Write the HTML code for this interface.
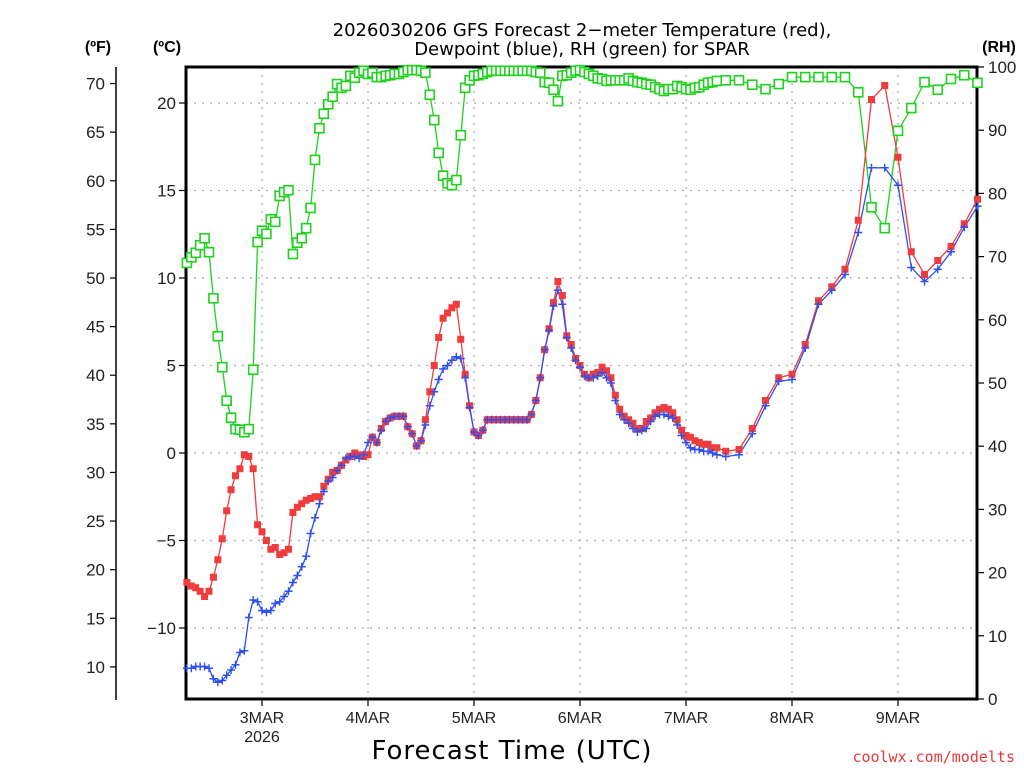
<!DOCTYPE html>
<html><head><meta charset="utf-8">
<style>
html,body{margin:0;padding:0;background:#fff;}
svg{display:block;font-family:"Liberation Sans","DejaVu Sans",sans-serif;}
</style></head>
<body>
<svg id="chart" width="1024" height="768" viewBox="0 0 1024 768" xmlns="http://www.w3.org/2000/svg">
<rect x="0" y="0" width="1024" height="768" fill="#fff"/>
<text x="582" y="36" font-size="18" text-anchor="middle" fill="#000" font-family="DejaVu Sans, sans-serif">2026030206 GFS Forecast 2−meter Temperature (red),</text>
<text x="582" y="55" font-size="18" text-anchor="middle" fill="#000" font-family="DejaVu Sans, sans-serif">Dewpoint (blue), RH (green) for SPAR</text>
<text x="98" y="52" font-size="16" font-weight="bold" text-anchor="middle">(ºF)</text>
<text x="167" y="52" font-size="16" font-weight="bold" text-anchor="middle">(ºC)</text>
<text x="999" y="52" font-size="16" font-weight="bold" text-anchor="middle">(RH)</text>
<text x="512" y="759" font-size="26" text-anchor="middle" font-family="DejaVu Sans, sans-serif" letter-spacing="1">Forecast Time (UTC)</text>
<text x="1015" y="762" font-size="15" text-anchor="end" fill="#e83a3a" font-family="DejaVu Sans Mono, monospace">coolwx.com/modelts</text>
<g id="grid"></g>
<g id="axes"></g>
<g id="series"></g>
</svg>
<script>
const hours = [7,8,9,10,11,12,13,14,15,16,17,18,19,20,21,22,23,24,25,26,27,28,29,30,31,32,33,34,35,36,37,38,39,40,41,42,43,44,45,46,47,48,49,
50,51,52,53,54,55,56,57,58,59,60,61,62,63,64,65,66,67,68,69,70,71,72,73,74,75,
76,77,78,79,80,81,82,83,84,
85,86,87,88,89,90,91,92,93,94,95,96,97,98,99,100,101,102,103,104,105,106,107,108,109,110,111,112,113,114,115,116,117,118,119,120,121,122,123,124,125,126,127,
129,132,135,138,141,144,147,150,153,156,159,162,165,168,171,174,177,180,183,186];
const tempC = [-7.4,-7.6,-7.7,-7.9,-8.2,-7.9,-7.1,-6.1,-4.9,-3.3,-2.1,-1.3,-0.9,-0.1,-0.2,-0.9,-4.1,-4.5,-5.0,-5.5,-5.4,-5.8,-5.7,-5.5,-3.4,-3.1,-2.9,-2.7,-2.6,-2.5,-2.5,-1.9,-1.5,-1.1,-1.0,-0.7,-0.4,-0.2,0,-0.1,-0.2,-0.1,0.9,
0.6,1.4,1.8,2.0,2.1,2.1,2.1,1.5,1.1,0.4,0.7,1.9,3.5,5.0,6.6,7.7,8.0,8.3,8.5,6.5,4.5,2.7,1.2,1.0,1.3,1.9,
1.9,1.9,1.9,1.9,1.9,1.9,1.9,1.9,1.9,
2.2,3.0,4.3,5.9,7.1,8.6,9.8,9.0,6.7,6.2,5.4,5.0,4.5,4.3,4.5,4.6,4.9,4.7,4.3,3.3,2.5,2.1,1.9,1.7,1.4,1.4,1.8,2.0,2.3,2.5,2.6,2.5,2.3,1.9,1.3,1.0,0.9,0.7,0.6,0.5,0.5,0.3,0.3,
0.1,0.2,1.4,3.0,4.3,4.5,6.2,8.7,9.5,10.5,13.3,20.2,21.0,16.9,11.5,10.2,11.0,11.8,13.1,14.5];
const dewC = [-12.3,-12.3,-12.2,-12.2,-12.2,-12.3,-12.9,-13.1,-13.0,-12.7,-12.4,-12.1,-11.4,-11.3,-9.4,-8.4,-8.5,-9.0,-9.1,-9.0,-8.6,-8.5,-8.2,-7.9,-7.4,-7.0,-6.5,-5.9,-4.6,-3.7,-2.9,-2.2,-1.6,-1.4,-1.0,-0.7,-0.3,-0.2,-0.2,-0.3,-0.1,0.6,0.9,
0.6,1.3,1.8,2.0,2.1,2.1,2.1,1.5,1.1,0.4,0.7,1.6,2.7,3.5,4.2,4.8,5.0,5.3,5.5,5.4,4.3,2.6,1.2,1.0,1.3,1.9,
1.9,1.9,1.9,1.9,1.9,1.9,1.9,1.9,1.9,
2.2,3.0,4.3,5.9,7.0,8.4,9.3,8.5,6.6,6.0,5.3,4.9,4.4,4.3,4.3,4.4,4.6,4.3,4.0,3.0,2.2,1.9,1.7,1.4,1.2,1.3,1.4,1.8,2.1,2.2,2.2,2.1,2.0,1.6,1.0,0.6,0.3,0.2,0.2,0.1,0.1,0,-0.1,
-0.2,-0.1,1.1,2.7,4.1,4.2,6.0,8.5,9.3,10.2,12.6,16.3,16.3,15.3,10.6,9.8,10.5,11.5,12.9,14.1];
const rhPct = [69.0,69.9,70.6,71.8,72.9,70.7,63.4,57.4,52.5,47.2,44.5,42.7,42.6,42.2,42.7,52.1,72.3,74.1,73.6,75.9,75.5,79.6,80.2,80.5,70.4,72.2,72.9,74.5,77.7,85.3,90.3,92.6,94.1,95.3,97.3,96.7,97.0,98.6,98.3,99.1,99.4,98.9,99.1,
98.4,98.4,98.6,98.7,98.9,98.9,99.2,99.5,99.5,99.5,99.4,99.1,95.6,91.6,86.4,82.8,81.6,81.3,82.1,89.2,96.7,97.9,98.6,98.7,98.9,99.2,
99.4,99.4,99.4,99.4,99.4,99.4,99.4,99.4,99.4,99.4,
99.2,99.1,97.6,97.5,96.4,94.6,98.6,98.7,99.1,99.4,99.5,99.2,98.9,98.6,98.2,98.1,97.8,
97.9,97.9,97.9,97.9,98.2,97.8,97.6,97.5,97.3,97.2,96.8,96.5,96.2,96.5,96.5,97.0,96.8,96.5,96.4,96.7,96.8,97.2,97.5,97.6,97.8,
97.9,97.9,97.2,96.5,97.3,98.4,98.4,98.4,98.4,98.4,96.0,77.8,74.5,89.9,93.5,97.6,96.4,98.1,98.7,97.5];
const dayLabels = ['3MAR','4MAR','5MAR','6MAR','7MAR','8MAR','9MAR'];
const dayHours = [24,48,72,96,120,144,168];
const celsiusTicks = [20,15,10,5,0,-5,-10];
const fahrenheitTicks = [70,65,60,55,50,45,40,35,30,25,20,15,10];
const rhTicks = [100,90,80,70,60,50,40,30,20,10,0];

const NS='http://www.w3.org/2000/svg';
const L=186,R=977,T=67,B=699;
function xS(h){return 156+h*(106/24);}
function yC(c){return 453-c*17.5;}
function yF(f){return yC((f-32)*5/9);}
function yRH(r){return B-(r/100)*(B-T);}
function mk(tag,attrs,parent){const e=document.createElementNS(NS,tag);for(const k in attrs)e.setAttribute(k,attrs[k]);parent.appendChild(e);return e;}
const grid=document.getElementById('grid'),axes=document.getElementById('axes'),ser=document.getElementById('series');

celsiusTicks.forEach(c=>{
  const y=yC(c);
  const g=mk('line',{x1:L,x2:R,y1:y,y2:y,stroke:'#aaa','stroke-width':1.2,'stroke-dasharray':'2,6'},grid);
  
  
  const t=mk('line',{x1:L-7,x2:L,y1:y,y2:y,stroke:'#000','stroke-width':1.2},axes);
  
  
  const lb=mk('text',{x:L-10,y:y+6,'font-size':17,'text-anchor':'end',fill:'#222'},axes);
  lb.textContent=c<0?'−'+(-c):String(c);
  
  
});
dayHours.forEach((h,i)=>{
  const x=xS(h);
  const g=mk('line',{x1:x,x2:x,y1:T,y2:B,stroke:'#aaa','stroke-width':1.2,'stroke-dasharray':'2,6'},grid);
  
  
  const t=mk('line',{x1:x,x2:x,y1:B,y2:B+7,stroke:'#000','stroke-width':1.2},axes);
  
  
  const lb=mk('text',{x:x,y:B+24,'font-size':16,'text-anchor':'middle',fill:'#222'},axes);
  lb.textContent=dayLabels[i];
  
  
});
const yr=mk('text',{x:xS(24),y:B+43,'font-size':16,'text-anchor':'middle',fill:'#222'},axes);
yr.textContent='2026';



const fl=mk('line',{x1:116,x2:116,y1:T,y2:B+1,stroke:'#000','stroke-width':1.5},axes);


fahrenheitTicks.forEach(f=>{
  const y=yF(f);
  const t=mk('line',{x1:110,x2:116,y1:y,y2:y,stroke:'#000','stroke-width':1.2},axes);
  
  
  const lb=mk('text',{x:105,y:y+6,'font-size':17,'text-anchor':'end',fill:'#222'},axes);
  lb.textContent=String(f);
  
  
});
rhTicks.forEach(r=>{
  const y=yRH(r);
  const t=mk('line',{x1:R,x2:R+7,y1:y,y2:y,stroke:'#000','stroke-width':1.2},axes);
  
  
  const lb=mk('text',{x:R+11,y:y+6,'font-size':17,'text-anchor':'start',fill:'#222'},axes);
  lb.textContent=String(r);
  
  
});
const fr=mk('rect',{x:L,y:T,width:R-L,height:B-T,fill:'none',stroke:'#000','stroke-width':3},axes);



function poly(vals,yfn,color,name){
  const pts=hours.map((h,i)=>xS(h).toFixed(1)+','+yfn(vals[i]).toFixed(1)).join(' ');
  const p=mk('polyline',{points:pts,fill:'none',stroke:color,'stroke-width':1.3},ser);
  
  
}
poly(rhPct,yRH,'#1ed21e','rh-line');
poly(tempC,yC,'#f03c3c','temperature-line');
poly(dewC,yC,'#2f4ff0','dewpoint-line');
hours.forEach((h,i)=>{
  const x=xS(h);
  const g=mk('rect',{x:x-4.5,y:yRH(rhPct[i])-4.5,width:9,height:9,fill:'#fff',stroke:'#1ed21e','stroke-width':1.6},ser);
  
  
});
hours.forEach((h,i)=>{
  const x=xS(h),y=yC(tempC[i]);
  const m=mk('rect',{x:x-3.5,y:y-3.5,width:7,height:7,fill:'#f03c3c'},ser);
  
  
});
hours.forEach((h,i)=>{
  const x=xS(h),y=yC(dewC[i]);
  const m=mk('path',{d:`M${x-4},${y}H${x+4}M${x},${y-4}V${y+4}`,stroke:'#2f4ff0','stroke-width':1.4,fill:'none'},ser);
  
  
});
</script>
</body></html>
